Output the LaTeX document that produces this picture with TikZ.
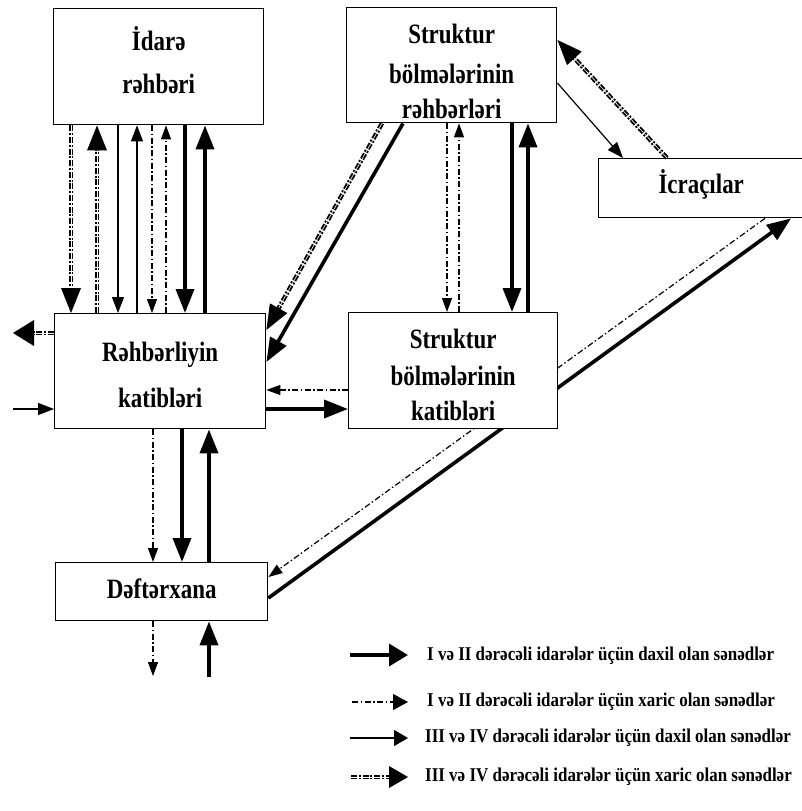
\documentclass[tikz,border=0pt]{standalone}
\usepackage{fontspec}
\setmainfont{Liberation Serif}
\newfontfamily\boxfont{Liberation Serif}[FakeStretch=0.82]
\newfontfamily\legfont{Liberation Serif}[FakeStretch=0.87]
\usetikzlibrary{arrows.meta,decorations.markings,backgrounds}
\begin{document}
\begin{tikzpicture}[x=1pt,y=-1pt,
  box/.style={draw, line width=1.4pt, fill=white, inner sep=0pt},
  bt/.style={anchor=base, inner sep=0pt, font=\boxfont\bfseries\fontsize{28}{34}\selectfont},
  thk/.style={line width=3.6pt, -{Triangle[length=24pt,width=18pt]}},
  thn/.style={line width=1.2pt, -{Triangle[length=16pt,width=12pt]}},
  ddt/.style={line width=1.2pt, dash pattern=on 6pt off 2.5pt on 1.5pt off 2.5pt, -{Triangle[length=14pt,width=10pt]}},
  hxline/.style={line width=1.9pt, double=white, double distance=0.6pt, dash pattern=on 6pt off 1.8pt on 2pt off 1.8pt, postaction=decorate},
  hx/.style={hxline, shorten >=12pt, decoration={markings, mark=at position 1 with {\fill[solid] (0pt,0pt) -- (-25pt,10pt) -- (-25pt,-10pt) -- cycle;}}},
  hxw/.style={hxline, shorten >=12pt, decoration={markings, mark=at position 1 with {\fill[solid] (0pt,0pt) -- (-21pt,13pt) -- (-21pt,-13pt) -- cycle;}}},
  lhx/.style={hxline, shorten >=10pt, decoration={markings, mark=at position 1 with {\fill[solid] (0pt,0pt) -- (-19pt,11pt) -- (-19pt,-11pt) -- cycle;}}},
  lthk/.style={line width=3.6pt, -{Triangle[length=19pt,width=22pt]}},
  lthn/.style={line width=1.2pt, -{Triangle[length=14pt,width=16pt]}},
  lddt/.style={line width=1.2pt, dash pattern=on 6pt off 2.5pt on 1.5pt off 2.5pt, -{Triangle[length=15pt,width=16pt]}},
  legtext/.style={anchor=west, inner sep=0pt, font=\legfont\bfseries\fontsize{19.5}{22}\selectfont},
]
\useasboundingbox (0,0) rectangle (801,811);

% boxes
\node[box, minimum width=210pt, minimum height=116pt, anchor=north west] (A) at (53,8) {};
\node[box, minimum width=210pt, minimum height=115pt, anchor=north west] (B) at (346,7) {};
\node[box, minimum width=207pt, minimum height=59pt, anchor=north west] (C) at (598,158) {};
\node[box, minimum width=211pt, minimum height=115pt, anchor=north west] (D) at (54,313) {};
\node[box, minimum width=209pt, minimum height=116pt, anchor=north west] (E) at (348,312) {};
\node[box, minimum width=212pt, minimum height=58pt, anchor=north west] (F) at (55,562) {};

% box texts
\node[bt] (A1) at ([yshift=-42pt]A.north) {İdarə};
\node[bt] (A2) at ([yshift=-85pt]A.north) {rəhbəri};
\node[bt] (B1) at ([yshift=-36pt]B.north) {Struktur};
\node[bt] (B2) at ([yshift=-76pt]B.north) {bölmələrinin};
\node[bt] (B3) at ([yshift=-111pt]B.north) {rəhbərləri};
\node[bt] (C1) at ([yshift=-35pt,xshift=-1pt]C.north) {İcraçılar};
\node[bt] (D1) at ([yshift=-48pt]D.north) {Rəhbərliyin};
\node[bt] (D2) at ([yshift=-94pt]D.north) {katibləri};
\node[bt] (E1) at ([yshift=-36pt]E.north) {Struktur};
\node[bt] (E2) at ([yshift=-73pt]E.north) {bölmələrinin};
\node[bt] (E3) at ([yshift=-108pt]E.north) {katibləri};
\node[bt] (F1) at ([yshift=-36pt]F.north) {Dəftərxana};

% helper coordinates
\foreach \x in {71,97,118,137,152,166,185,205,447,459,512,528,153,182,209}
  \coordinate (v\x) at (\x,0);
\coordinate (h390) at (0,390);
\coordinate (h409) at (0,409);
\coordinate (outL) at (13,333);
\coordinate (inL) at (13,409);
\coordinate (fout) at (153,676);
\coordinate (fin) at (209,677);

% A <-> D
\draw[hx] (A.south -| v71) -- (D.north -| v71);
\draw[hx] (D.north -| v97) -- (A.south -| v97);
\draw[thn] (A.south -| v118) -- (D.north -| v118);
\draw[thn] (D.north -| v137) -- (A.south -| v137);
\draw[ddt] (A.south -| v152) -- (D.north -| v152);
\draw[ddt] (D.north -| v166) -- (A.south -| v166);
\draw[thk] (A.south -| v185) -- (D.north -| v185);
\draw[thk] (D.north -| v205) -- (A.south -| v205);

% B <-> E
\draw[ddt] (B.south -| v447) -- (E.north -| v447);
\draw[ddt] (E.north -| v459) -- (B.south -| v459);
\draw[thk] (B.south -| v512) -- (E.north -| v512);
\draw[thk] (E.north -| v528) -- (B.south -| v528);

% B -> D
\draw[hx] ([xshift=36pt]B.south west) -- ([yshift=-17pt]D.north east);
\draw[thk] ([xshift=57pt]B.south west) -- ([yshift=-49pt]D.north east);

% B <-> C
\draw[thn] ([yshift=-76pt]B.north east) -- ([xshift=25pt]C.north west);
\draw[hx] ([xshift=69pt]C.north west) -- ([yshift=-33pt]B.north east);

% D left side
\draw[hxw] (D.west |- outL) -- (outL);
\draw[thn] (inL) -- (D.west |- inL);

% D <-> E
\draw[ddt] (E.west |- h390) -- (D.east |- h390);
\draw[thk] (D.east |- h409) -- (E.west |- h409);

% D <-> F
\draw[ddt] (D.south -| v153) -- (F.north -| v153);
\draw[thk] (D.south -| v182) -- (F.north -| v182);
\draw[thk] (F.north -| v209) -- (D.south -| v209);

% F bottom
\draw[ddt] (F.south -| fout) -- (fout);
\draw[thk] (fin) -- (F.south -| fin);

% long diagonals behind E
\begin{pgfonlayer}{background}
\draw[ddt] ([xshift=167pt]C.south west) -- ([yshift=-15pt]F.north east);
\draw[thk] ([yshift=-36pt]F.north east) -- ([xshift=193pt]C.south west);
\end{pgfonlayer}

% legend
\coordinate (l1a) at (350,655); \coordinate (l1b) at (408,655);
\coordinate (l2a) at (352,702); \coordinate (l2b) at (408,702);
\coordinate (l3a) at (350,738); \coordinate (l3b) at (408,738);
\coordinate (l4a) at (351,777); \coordinate (l4b) at (408,777);
\draw[lthk] (l1a) -- (l1b);
\draw[lddt] (l2a) -- (l2b);
\draw[lthn] (l3a) -- (l3b);
\draw[lhx] (l4a) -- (l4b);
\node[legtext] (t1) at (427,656) {I və II dərəcəli idarələr üçün daxil olan sənədlər};
\node[legtext] (t2) at (427,702) {I və II dərəcəli idarələr üçün xaric olan sənədlər};
\node[legtext] (t3) at (425,738) {III və IV dərəcəli idarələr üçün daxil olan sənədlər};
\node[legtext] (t4) at (425,777) {III və IV dərəcəli idarələr üçün xaric olan sənədlər};
\end{tikzpicture}
\end{document}
